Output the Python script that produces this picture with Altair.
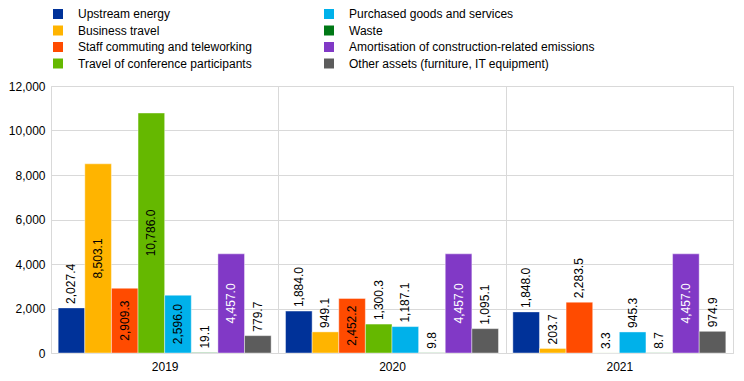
import altair as alt
import pandas as pd

years = ["2019", "2020", "2021"]
categories = [
    "Upstream energy",
    "Business travel",
    "Staff commuting and teleworking",
    "Travel of conference participants",
    "Purchased goods and services",
    "Waste",
    "Amortisation of construction-related emissions",
    "Other assets (furniture, IT equipment)",
]
colors = ["#003299", "#FFB400", "#FF4B00", "#65B800", "#00B1EA", "#007816", "#8139C6", "#5C5C5C"]
v2019 = [2027.4, 8503.1, 2909.3, 10786.0, 2596.0, 19.1, 4457.0, 779.7]
v2020 = [1884.0, 949.1, 2452.2, 1300.3, 1187.1, 9.8, 4457.0, 1095.1]
v2021 = [1848.0, 203.7, 2283.5, 3.3, 945.3, 8.7, 4457.0, 974.9]
y_ticks = [0, 2000, 4000, 6000, 8000, 10000, 12000]

rows = []
for yr, vals in zip(years, [v2019, v2020, v2021]):
    for c, v in zip(categories, vals):
        rows.append({"year": yr, "category": c, "value": v})
df = pd.DataFrame(rows)

FONT = "Liberation Sans"

base = alt.Chart(df).encode(
    x=alt.X(
        "year:N",
        sort=years,
        scale=alt.Scale(paddingInner=0, paddingOuter=0),
        axis=alt.Axis(
            title=None, labelAngle=0, grid=True, tickBand="extent", ticks=False,
            domain=False, gridColor="#d9d9d9", labelFontSize=12, labelFont=FONT,
            labelColor="#000000", labelPadding=8,
        ),
    ),
    xOffset=alt.XOffset(
        "category:N", sort=categories,
        scale=alt.Scale(paddingInner=0, paddingOuter=0.27),
    ),
)

yscale = alt.Scale(domain=[0, 12000], nice=False)
yaxis = alt.Axis(
    title=None, values=y_ticks, format=",d", grid=True, gridColor="#d9d9d9",
    ticks=False, domain=False, labelFontSize=12, labelFont=FONT,
    labelColor="#000000", labelPadding=6,
)

bars = base.mark_bar(stroke="#ffffff", strokeWidth=0.6, strokeOpacity=0.7).encode(
    y=alt.Y("value:Q", scale=yscale, axis=yaxis),
    color=alt.Color(
        "category:N",
        scale=alt.Scale(domain=categories, range=colors),
        legend=alt.Legend(
            title=None, orient="none", legendX=1, legendY=-78, columns=2,
            symbolType="square", symbolSize=100, symbolStrokeWidth=0,
            labelFontSize=12, labelFont=FONT, labelColor="#000000",
            labelOffset=14, columnPadding=71, rowPadding=4.5, labelLimit=400,
        ),
    ),
)

inside = base.transform_filter("datum.value > 2400").transform_calculate(
    mid="datum.value / 2"
).mark_text(angle=270, align="center", baseline="middle", fontSize=12, font=FONT).encode(
    y=alt.Y("mid:Q", scale=yscale),
    text=alt.Text("value:Q", format=",.1f"),
    color=alt.condition(
        alt.datum.category == categories[6], alt.value("#ffffff"), alt.value("#000000")
    ),
)

outside = base.transform_filter("datum.value <= 2400").mark_text(
    angle=270, align="left", baseline="middle", dx=4, fontSize=12, font=FONT, color="#000000"
).encode(
    y=alt.Y("value:Q", scale=yscale),
    text=alt.Text("value:Q", format=",.1f"),
)

chart = alt.layer(bars, inside, outside).properties(
    width=682, height=267,
    autosize=alt.AutoSizeParams(type="none"),
    padding={"left": 43, "top": 78, "right": 3, "bottom": 20},
).configure_view(stroke="#d9d9d9", strokeWidth=1).configure(font=FONT)

chart.save("out.html", embed_options={"renderer": "svg", "actions": False})
